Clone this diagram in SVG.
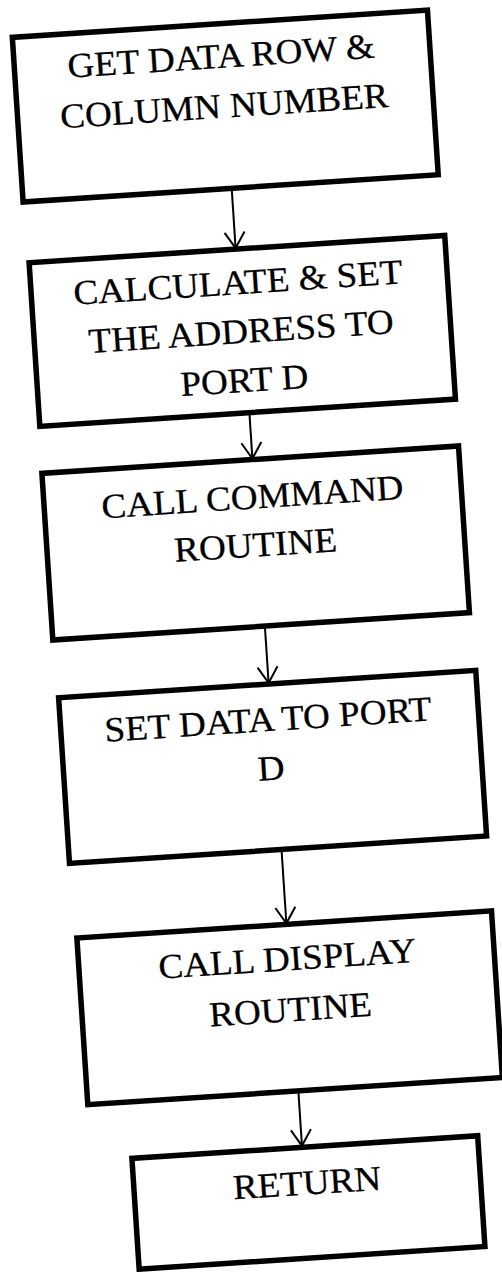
<svg xmlns="http://www.w3.org/2000/svg" width="502" height="1272" viewBox="0 0 502 1272">
  <style>
    .box { fill: #fff; stroke: #000; stroke-width: 5.5; stroke-linejoin: miter; }
    .lbl { font-family: "Liberation Serif", "Times New Roman", serif; font-size: 35px; fill: #000; stroke: #000; stroke-width: 0.3; text-anchor: middle; }
    .flow { stroke: #000; stroke-width: 2; fill: none; marker-end: url(#arrow); }
  </style>
  <defs>
    <marker id="arrow" markerUnits="userSpaceOnUse" orient="auto" refX="0" refY="0" markerWidth="40" markerHeight="40" overflow="visible">
      <path d="M-16,-10 L0,0 L-16,10" fill="none" stroke="#000" stroke-width="2"/>
    </marker>
  </defs>
  <rect width="502" height="1272" fill="#fff"/>
  <!-- the whole chart sits slightly tilted on the page -->
  <g transform="rotate(-3.75 251 636)">
    <g id="connectors">
      <line class="flow" x1="261" y1="188" x2="261" y2="248"/>
      <line class="flow" x1="264" y1="413" x2="264" y2="459"/>
      <line class="flow" x1="265.5" y1="627" x2="265.5" y2="684"/>
      <line class="flow" x1="267.5" y1="851" x2="267.5" y2="925"/>
      <line class="flow" x1="268.5" y1="1093" x2="268.5" y2="1148"/>
    </g>
    <g id="get-data">
      <rect class="box" x="52" y="23" width="416" height="165"/>
      <text class="lbl" transform="translate(259 0) scale(1.06 1)"><tspan x="0" y="67">GET DATA ROW &amp;</tspan><tspan x="0" y="117">COLUMN NUMBER</tspan></text>
    </g>
    <g id="calc-address">
      <rect class="box" x="54" y="249" width="416.5" height="164"/>
      <text class="lbl" transform="translate(261 0) scale(1.06 1)"><tspan x="0" y="294">CALCULATE &amp; SET</tspan><tspan x="0" y="343">THE ADDRESS TO</tspan><tspan x="0" y="392">PORT D</tspan></text>
    </g>
    <g id="call-command">
      <rect class="box" x="53" y="460" width="417.5" height="167"/>
      <text class="lbl" transform="translate(261.5 0) scale(1.06 1)"><tspan x="0" y="509">CALL COMMAND</tspan><tspan x="0" y="557">ROUTINE</tspan></text>
    </g>
    <g id="set-data">
      <rect class="box" x="55" y="685" width="418" height="166"/>
      <text class="lbl" transform="translate(262.5 0) scale(1.06 1)"><tspan x="0" y="732">SET DATA TO PORT</tspan><tspan x="0" y="781">D</tspan></text>
    </g>
    <g id="call-display">
      <rect class="box" x="57.5" y="926" width="415.5" height="167"/>
      <text class="lbl" transform="translate(266 0) scale(1.06 1)"><tspan x="0" y="972">CALL DISPLAY</tspan><tspan x="0" y="1023">ROUTINE</tspan></text>
    </g>
    <g id="return">
      <rect class="box" x="98" y="1149.5" width="346.5" height="111"/>
      <text class="lbl" transform="translate(271 0) scale(1.06 1)"><tspan x="0" y="1197">RETURN</tspan></text>
    </g>
  </g>
</svg>
